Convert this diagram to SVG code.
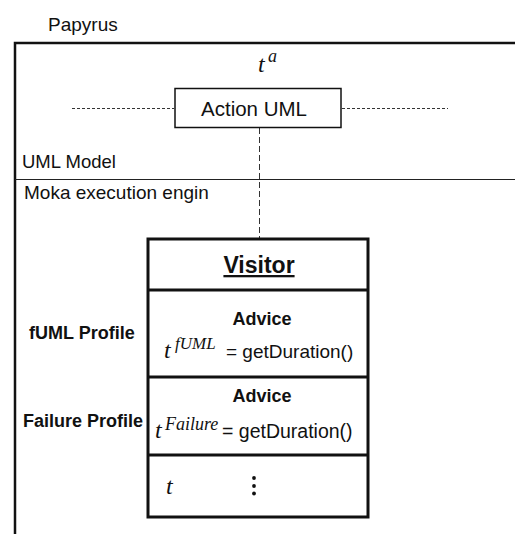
<svg xmlns="http://www.w3.org/2000/svg" width="515" height="534" viewBox="0 0 515 534">
<style>
.s{font-family:"Liberation Sans",Arial,sans-serif;font-size:19px;fill:#111}
.b{font-family:"Liberation Sans",Arial,sans-serif;font-weight:bold;font-size:18px;fill:#111}
.m{font-family:"Liberation Serif","DejaVu Serif",serif;font-style:italic;fill:#111}
.dash{stroke:#333;stroke-width:1;stroke-dasharray:3 2;fill:none}
.vdash{stroke:#333;stroke-width:1;stroke-dasharray:6 3;fill:none}
.box{fill:#fff;stroke:#111;stroke-width:3}
</style>
<rect width="515" height="534" fill="#fff"/>
<g id="frame">
<text class="s" x="48" y="31">Papyrus</text>
<path d="M15 534 V43 H515" fill="none" stroke="#111" stroke-width="2.5"/>
<line x1="15" y1="179.5" x2="515" y2="179.5" stroke="#222" stroke-width="1"/>
<text class="s" x="22" y="168" style="font-size:18.5px">UML Model</text>
<text class="s" x="24" y="199">Moka execution engin</text>
<text class="m" x="258" y="72" font-size="24">t</text>
<text class="m" x="268" y="62" font-size="18">a</text>
</g>
<g id="connectors">
<line class="dash" x1="72" y1="108.5" x2="174" y2="108.5"/>
<line class="dash" x1="342" y1="108.5" x2="448" y2="108.5"/>
<line class="vdash" x1="259.5" y1="128" x2="259.5" y2="239"/>
</g>
<g id="action-uml">
<rect x="175" y="88.5" width="166" height="39" fill="#fff" stroke="#111" stroke-width="1.5"/>
<text class="s" x="254" y="116" text-anchor="middle" style="font-size:20.5px">Action UML</text>
</g>
<g id="visitor">
<rect class="box" x="148" y="239" width="220" height="278"/>
<line x1="148" y1="290" x2="368" y2="290" stroke="#111" stroke-width="3"/>
<line x1="148" y1="377" x2="368" y2="377" stroke="#111" stroke-width="3"/>
<line x1="148" y1="455" x2="368" y2="455" stroke="#111" stroke-width="3"/>
<text class="b" x="259" y="273" text-anchor="middle" style="font-size:23px" text-decoration="underline">Visitor</text>
<text class="b" x="262" y="325" text-anchor="middle">Advice</text>
<text class="m" x="164" y="358" font-size="24">t</text>
<text class="m" x="175" y="349" font-size="17">fUML</text>
<text class="s" x="226" y="358">= getDuration()</text>
<text class="b" x="262" y="402" text-anchor="middle">Advice</text>
<text class="m" x="155" y="438" font-size="24">t</text>
<text class="m" x="165" y="430" font-size="18">Failure</text>
<text class="s" x="222" y="438" style="font-size:19.5px">= getDuration()</text>
<text class="m" x="166" y="494" font-size="24">t</text>
<circle cx="254" cy="478" r="1.9" fill="#111"/>
<circle cx="254" cy="486" r="1.9" fill="#111"/>
<circle cx="254" cy="493.5" r="1.9" fill="#111"/>
</g>
<g id="profiles">
<text class="b" x="29" y="339">fUML Profile</text>
<text class="b" x="23" y="427">Failure Profile</text>
</g>
</svg>
